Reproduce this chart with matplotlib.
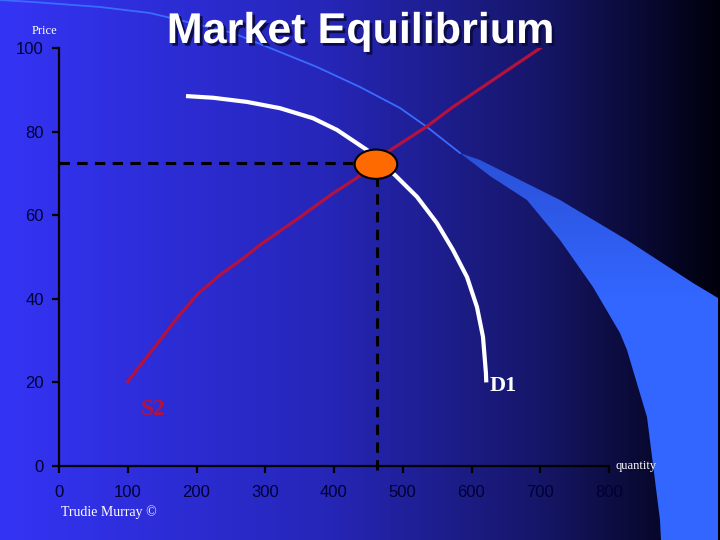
import numpy as np
import matplotlib
matplotlib.use('Agg')
import matplotlib.pyplot as plt
from matplotlib.patches import Ellipse, Polygon
import matplotlib.patheffects as pe

# supply curve S2 (quantity, price)
supply_q = [98.5, 122.6, 146.9, 171.2, 202.6, 234.2, 268.1, 292.4, 303, 351, 399, 433, 478.5, 534.8, 573, 702]
supply_p = [19.9, 25.0, 30.1, 35.3, 41.3, 45.7, 49.7, 52.9, 54.1, 59.6, 65.3, 68.9, 75.2, 81.2, 85.9, 100.2]

# demand curve D1
demand_q = [184.7, 224, 273.5, 321.5, 369.5, 404.4, 433.5, 448, 488.7, 520.7, 549.8, 573, 593.5, 608, 616.7, 621, 621.5]
demand_p = [88.5, 88.1, 87.1, 85.6, 83.2, 80.4, 77.2, 75.6, 69.6, 64.4, 58.1, 51.7, 45.2, 38.0, 30.9, 22.2, 20.0]

# equilibrium point
eq_q = 463
eq_p = 72.5

x_ticks = [0, 100, 200, 300, 400, 500, 600, 700, 800]
y_ticks = [0, 20, 40, 60, 80, 100]

fig = plt.figure(figsize=(7.2, 5.4), dpi=100)

# background slide decoration, pixel coordinates
bg = fig.add_axes([0, 0, 1, 1], zorder=0)
bg.axis('off')

stops = np.array([0.0, 0.45, 0.75, 1.0])
cols = np.array([[52, 52, 245], [38, 38, 185], [22, 22, 105], [0, 0, 12]]) / 255.0
t = np.linspace(0, 1, 720)
grad = np.stack([np.interp(t, stops, cols[:, i]) for i in range(3)], axis=-1)
bg.imshow(grad[np.newaxis, :, :], extent=[0, 720, 540, 0], aspect='auto')

arc_x = [0, 33, 100, 150, 233, 317, 360, 400, 427, 460]
arc_y = [0, 2, 7, 13, 33, 67, 87, 108, 127, 153]
bg.plot(arc_x, arc_y, color='#3a6cff', lw=1.3)

band_upper_x = [460, 480, 560, 627, 693, 718]
band_upper_y = [153, 160, 200, 240, 283, 298]
band_lower_x = [661, 660, 647, 627, 620, 593, 560, 527, 490, 460]
band_lower_y = [540, 520, 417, 350, 333, 287, 240, 200, 176, 153]
band = Polygon(list(zip(band_upper_x, band_upper_y)) + [(718, 540)] +
               list(zip(band_lower_x, band_lower_y)), closed=True,
               facecolor='none', edgecolor='none')
bg.add_patch(band)
bt = np.linspace(0, 1, 540)
bstops = np.array([0.0, 0.28, 0.55, 1.0])
bcols = np.array([[32, 60, 190], [42, 80, 215], [51, 102, 255], [51, 102, 255]]) / 255.0
bgrad = np.stack([np.interp(bt, bstops, bcols[:, i]) for i in range(3)], axis=-1)
im = bg.imshow(bgrad[:, np.newaxis, :], extent=[0, 720, 540, 0], aspect='auto')
im.set_clip_path(band)
bg.set_xlim(0, 720)
bg.set_ylim(540, 0)

# chart
ax = fig.add_axes([59 / 720, 74 / 540, 550 / 720, 418 / 540], zorder=1)
ax.patch.set_alpha(0)
ax.set_xlim(0, 800)
ax.set_ylim(0, 100)

ax.plot([0, eq_q], [eq_p, eq_p], color='black', lw=2.2, ls=(0, (3.4, 2.4)))
ax.plot([eq_q, eq_q], [-1, eq_p], color='black', lw=2.2, ls=(0, (3.4, 2.4)), clip_on=False)
ax.plot(supply_q, supply_p, color='#b3123f', lw=2.3, solid_capstyle='butt')
ax.plot(demand_q, demand_p, color='white', lw=3, solid_capstyle='butt')
ax.add_patch(Ellipse((eq_q - 2, eq_p - 0.3), 62, 7, facecolor='#ff6a00',
                     edgecolor='black', lw=1.5, zorder=5))

for s in ['top', 'right']:
    ax.spines[s].set_visible(False)
for s in ['left', 'bottom']:
    ax.spines[s].set_linewidth(1.6)
    ax.spines[s].set_color('black')

ax.set_xticks(x_ticks)
ax.set_yticks(y_ticks)
ax.tick_params(axis='both', direction='out', length=5, width=1.6, color='black',
               labelsize=12, labelcolor='#000033')
ax.tick_params(axis='x', pad=9)
ax.tick_params(axis='y', pad=6)
for lab in ax.get_xticklabels() + ax.get_yticklabels():
    lab.set_fontfamily('Liberation Sans')

ax.text(137, 13.6, 'S2', color='#b3123f', fontsize=17, fontweight='bold',
        family='Liberation Serif', ha='center', va='center')
ax.text(646, 19.2, 'D1', color='white', fontsize=16, fontweight='bold',
        family='Liberation Serif', ha='center', va='center')
ax.text(809, 0, 'quantity', color='white', fontsize=9, family='Liberation Serif',
        ha='left', va='center', clip_on=False)

fig.text(44 / 720, 1 - 31 / 540, 'Price', color='white', fontsize=9,
         family='Liberation Serif', ha='center', va='center')
fig.text(61 / 720, 1 - 512 / 540, 'Trudie Murray ©', color='white', fontsize=10,
         family='Liberation Serif', ha='left', va='center')
fig.text(360 / 720, 1 - 43 / 540, 'Market Equilibrium', color='white', fontsize=31,
         fontweight='bold', family='Liberation Sans', ha='center', va='baseline',
         path_effects=[pe.SimplePatchShadow(offset=(2, -2), shadow_rgbFace='#0a0a40', alpha=0.9),
                       pe.Normal()])

fig.savefig('out.png', dpi=100)
